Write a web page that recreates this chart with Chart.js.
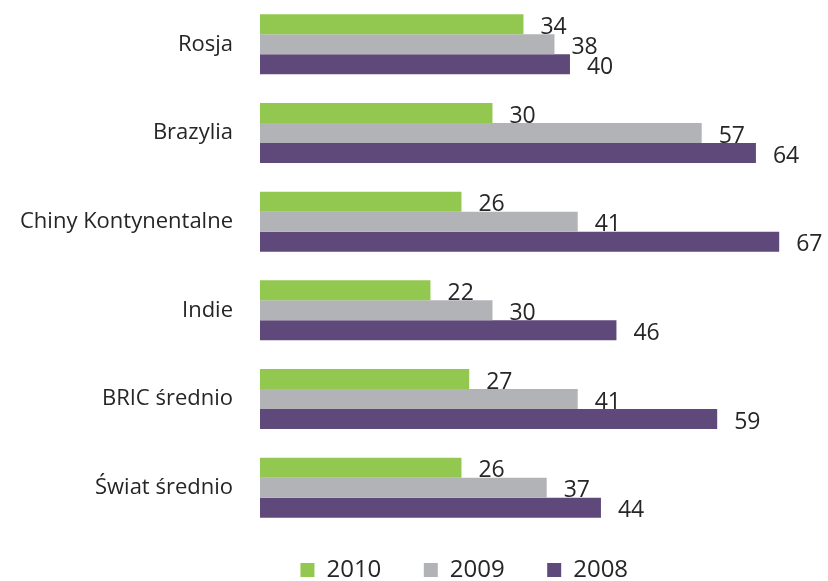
<!DOCTYPE html>
<html>
<head>
<meta charset="utf-8">
<script src="https://cdn.jsdelivr.net/npm/chart.js@4"></script>
<style>
  html, body { margin: 0; padding: 0; background: #fff; }
  #wrap { width: 828px; height: 581px; }
</style>
</head>
<body>
<div id="wrap"><canvas id="chart"></canvas></div>
<script>
const categories = ['Rosja', 'Brazylia', 'Chiny Kontynentalne', 'Indie', 'BRIC średnio', 'Świat średnio']
const years = ['2010', '2009', '2008']
const values2010 = [34, 30, 26, 22, 27, 26]
const values2009 = [38, 57, 41, 30, 41, 37]
const values2008 = [40, 64, 67, 46, 59, 44]

const colors = {
  green: '#92c850',
  gray: '#b2b3b6',
  purple: '#5f497a',
  text: '#262626'
}

// value labels to the right of each bar
const barLabels = {
  id: 'barLabels',
  afterDatasetsDraw(chart) {
    const ctx = chart.ctx
    ctx.save()
    ctx.fillStyle = colors.text
    ctx.font = '23px "Open Sans"'
    ctx.textAlign = 'left'
    ctx.textBaseline = 'middle'
    chart.data.datasets.forEach((ds, i) => {
      chart.getDatasetMeta(i).data.forEach((bar, j) => {
        ctx.fillText(ds.data[j], bar.x + 17, bar.y + 3)
      })
    })
    ctx.restore()
  }
}

new Chart(document.getElementById('chart'), {
  type: 'bar',
  data: {
    labels: categories,
    datasets: [
      { label: years[0], data: values2010, backgroundColor: colors.green },
      { label: years[1], data: values2009, backgroundColor: colors.gray },
      { label: years[2], data: values2008, backgroundColor: colors.purple }
    ]
  },
  options: {
    indexAxis: 'y',
    responsive: true,
    maintainAspectRatio: false,
    animation: false,
    categoryPercentage: 0.676,
    barPercentage: 1,
    // negative right padding only moves the legend centre to the left
    layout: { padding: { top: 0, right: -117, left: 0, bottom: -11 } },
    plugins: {
      legend: {
        position: 'bottom',
        labels: {
          color: colors.text,
          font: { family: 'Open Sans', size: 24 },
          boxWidth: 14,
          boxHeight: 14,
          padding: 26,
          // extra room between legend entries
          generateLabels(chart) {
            const items = Chart.defaults.plugins.legend.labels.generateLabels(chart)
            items.forEach(it => { it.text = it.text + '\u00a0\u00a0\u2006' })
            return items
          }
        }
      },
      tooltip: { enabled: false }
    },
    scales: {
      x: {
        display: false,
        min: 0,
        max: 73.3
      },
      y: {
        grid: { display: false },
        border: { display: false },
        afterFit(scale) {
          scale.width = 260
          scale.paddingTop = 0
          scale.paddingBottom = 0
        },
        ticks: {
          color: colors.text,
          padding: 19,
          font: { family: 'Open Sans', size: 22 }
        }
      }
    }
  },
  plugins: [barLabels]
})
</script>
</body>
</html>
